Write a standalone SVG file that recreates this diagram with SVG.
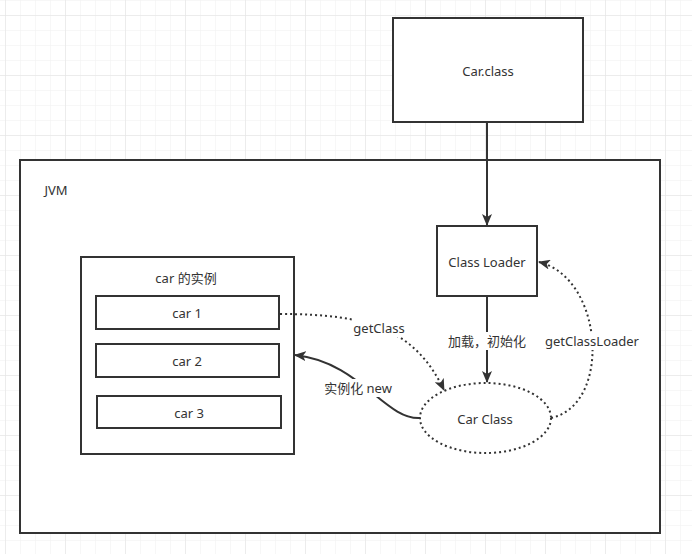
<svg xmlns="http://www.w3.org/2000/svg" width="692" height="554" viewBox="0 0 692 554">
<defs>
<pattern id="minor" x="5" y="0" width="15" height="15" patternUnits="userSpaceOnUse">
<path d="M0,0 V15 M0,0 H15" fill="none" stroke="#f0f0f0" stroke-width="1"/>
</pattern>
<pattern id="major" x="5" y="15" width="60" height="60" patternUnits="userSpaceOnUse">
<path d="M0,0 V60 M0,0 H60" fill="none" stroke="#e2e2e2" stroke-width="1"/>
</pattern>
<marker id="arr" viewBox="0 0 12 10" refX="11" refY="5" markerWidth="12" markerHeight="10" markerUnits="userSpaceOnUse" orient="auto">
<path d="M0,0 L12,5 L0,10 L3,5 z" fill="#333"/>
</marker>
<style>
.box{fill:#fff;stroke:#333;stroke-width:2}
.txt{font-family:"Noto Sans","Noto Sans CJK SC",sans-serif;font-size:13px;fill:#333;text-anchor:middle;dominant-baseline:central}
.line{fill:none;stroke:#333;stroke-width:2}
.dot{fill:none;stroke:#333;stroke-width:2;stroke-dasharray:2 3}
.lbg{fill:#fff}
</style>
</defs>
<rect width="692" height="554" fill="#fff"/>
<rect width="692" height="554" fill="url(#minor)"/>
<rect width="692" height="554" fill="url(#major)"/>

<g id="jvm">
<rect class="box" x="20" y="160" width="640" height="373"/>
<text class="txt" x="56" y="190" style="text-anchor:middle">JVM</text>
</g>
<g id="car-class-file">
<rect class="box" x="393" y="18" width="190" height="104"/>
<text class="txt" x="488" y="71">Car.class</text>
</g>
<g id="class-loader">
<rect class="box" x="437" y="226" width="100" height="70"/>
<text class="txt" x="487" y="262">Class Loader</text>
</g>
<g id="instances">
<rect class="box" x="81" y="257" width="213" height="197"/>
<text class="txt" x="186" y="278">car 的实例</text>
</g>
<g id="car1">
<rect class="box" x="96" y="296" width="183" height="33"/>
<text class="txt" x="187" y="313">car 1</text>
</g>
<g id="car2">
<rect class="box" x="96" y="344" width="183" height="33"/>
<text class="txt" x="187" y="361">car 2</text>
</g>
<g id="car3">
<rect class="box" x="97" y="396" width="184" height="32"/>
<text class="txt" x="189" y="413">car 3</text>
</g>
<g id="car-class">
<ellipse cx="485.5" cy="418" rx="65.5" ry="35" fill="#fff" stroke="#333" stroke-width="2" stroke-dasharray="2 3"/>
<text class="txt" x="485" y="419">Car Class</text>
</g>

<g id="connectors">
<path class="line" d="M487,122 V225" marker-end="url(#arr)"/>
<path class="line" d="M487,296 V382" marker-end="url(#arr)"/>
<rect class="lbg" x="445" y="332" width="84" height="18"/>
<text class="txt" x="487" y="341">加载，初始化</text>

<path class="dot" d="M551,418 C612,405 604,278 539,262" marker-end="url(#arr)"/>
<rect class="lbg" x="545" y="332" width="94" height="18"/>
<text class="txt" x="592" y="341">getClassLoader</text>

<path class="dot" d="M280,314 C370,314 415,330 444,390" marker-end="url(#arr)"/>
<rect class="lbg" x="352" y="319" width="54" height="18"/>
<text class="txt" x="379" y="328">getClass</text>

<path class="line" d="M420,418 C385,420 360,362 295,355" marker-end="url(#arr)"/>
<rect class="lbg" x="322" y="379" width="72" height="18"/>
<text class="txt" x="358" y="388">实例化 new</text>
</g>
</svg>
